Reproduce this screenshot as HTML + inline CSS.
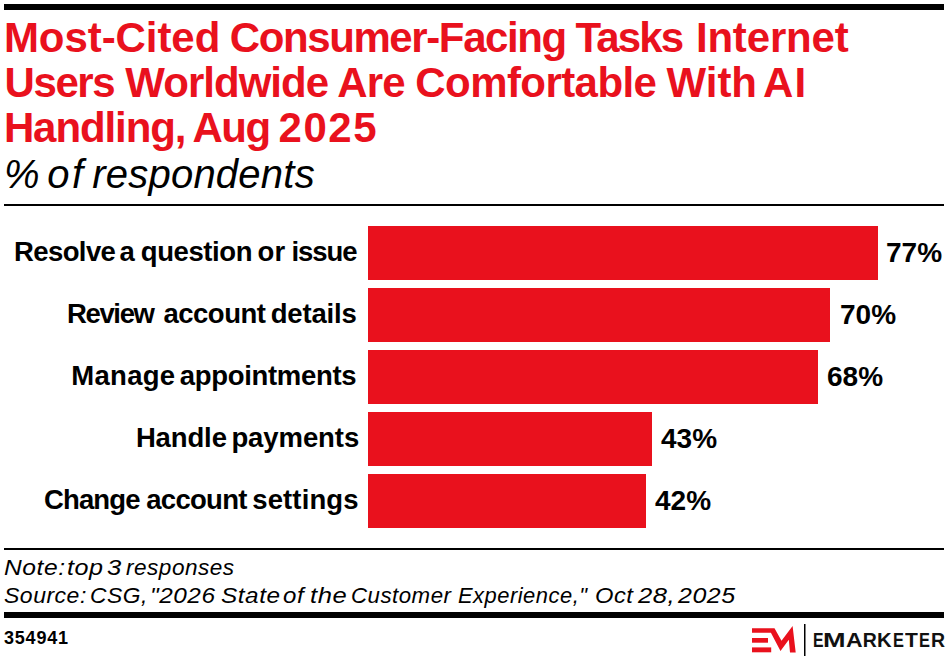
<!DOCTYPE html>
<html>
<head>
<meta charset="utf-8">
<style>
html,body{margin:0;padding:0;background:#fff;}
body{width:948px;height:660px;position:relative;overflow:hidden;font-family:"Liberation Sans",sans-serif;}
.abs{position:absolute;white-space:nowrap;}
.rule{position:absolute;background:#000;}
.title{color:#e9111d;font-weight:bold;font-size:42px;line-height:45px;left:3.5px;letter-spacing:-0.83px;}
.sub{font-style:italic;font-size:40px;left:5px;color:#000;}
.lab{font-weight:bold;font-size:27.5px;color:#000;text-align:right;}
.bar{position:absolute;background:#e9111d;left:368px;height:54px;}
.val{font-weight:bold;font-size:28px;color:#000;}
.note{font-style:italic;font-size:22.5px;letter-spacing:0.5px;left:5px;color:#000;}
</style>
</head>
<body>
<div class="rule" style="left:4px;top:4px;width:940px;height:6px;"></div>

<div class="abs title" style="top:15px;left:3.9px;letter-spacing:-0.06px;">Most-Cited</div>
<div class="abs title" style="top:15px;left:229.7px;letter-spacing:-1.39px;">Consumer-Facing</div>
<div class="abs title" style="top:15px;left:575.5px;letter-spacing:-1.83px;">Tasks</div>
<div class="abs title" style="top:15px;left:695.9px;letter-spacing:-0.17px;">Internet</div>
<div class="abs title" style="top:60px;left:4.5px;letter-spacing:-1.4px;">Users</div>
<div class="abs title" style="top:60px;left:125.3px;letter-spacing:-0.97px;">Worldwide</div>
<div class="abs title" style="top:60px;left:337.3px;letter-spacing:-0.88px;">Are</div>
<div class="abs title" style="top:60px;left:415.3px;letter-spacing:-0.57px;">Comfortable</div>
<div class="abs title" style="top:60px;left:666.6px;letter-spacing:-0.06px;">With</div>
<div class="abs title" style="top:60px;left:763.1px;letter-spacing:1.07px;">AI</div>
<div class="abs title" style="top:105px;left:3.9px;letter-spacing:-1.1px;">Handling,</div>
<div class="abs title" style="top:105px;left:192.5px;letter-spacing:-1.53px;">Aug</div>
<div class="abs title" style="top:105px;left:278.5px;letter-spacing:1.54px;">2025</div>
<div class="abs sub" style="top:152px;left:4px;">%</div>
<div class="abs sub" style="top:152px;left:47.3px;letter-spacing:2.5px;">of</div>
<div class="abs sub" style="top:152px;left:92.2px;letter-spacing:0.23px;">respondents</div>

<div class="rule" style="left:4px;top:204px;width:940px;height:2px;"></div>

<div class="bar" style="top:226px;width:510px;"></div>
<div class="bar" style="top:288px;width:462px;"></div>
<div class="bar" style="top:350px;width:450px;"></div>
<div class="bar" style="top:412px;width:284px;"></div>
<div class="bar" style="top:474px;width:278px;"></div>

<div class="abs lab" style="top:236px;left:14.1px;letter-spacing:-0.62px;">Resolve</div>
<div class="abs lab" style="top:236px;left:119.5px;letter-spacing:-0.75px;">a</div>
<div class="abs lab" style="top:236px;left:140.8px;letter-spacing:-0.41px;">question</div>
<div class="abs lab" style="top:236px;left:257.4px;letter-spacing:0.25px;">or</div>
<div class="abs lab" style="top:236px;left:291.5px;letter-spacing:-1.08px;">issue</div>
<div class="abs lab" style="top:298px;left:66.9px;letter-spacing:-1.33px;">Review</div>
<div class="abs lab" style="top:298px;left:163.4px;letter-spacing:-0.48px;">account</div>
<div class="abs lab" style="top:298px;left:270.7px;letter-spacing:-0.16px;">details</div>
<div class="abs lab" style="top:360px;left:71.3px;letter-spacing:0.28px;">Manage</div>
<div class="abs lab" style="top:360px;left:179.8px;letter-spacing:-0.32px;">appointments</div>
<div class="abs lab" style="top:422px;left:135.9px;letter-spacing:-0.13px;">Handle</div>
<div class="abs lab" style="top:422px;left:231.4px;letter-spacing:-0.08px;">payments</div>
<div class="abs lab" style="top:484px;left:44.1px;letter-spacing:-0.9px;">Change</div>
<div class="abs lab" style="top:484px;left:146.3px;letter-spacing:-0.72px;">account</div>
<div class="abs lab" style="top:484px;left:252.3px;letter-spacing:0.11px;">settings</div>

<div class="abs val" id="v1" style="left:886px;top:237px;">77%</div>
<div class="abs val" id="v2" style="left:840px;top:299px;">70%</div>
<div class="abs val" id="v3" style="left:827px;top:361px;">68%</div>
<div class="abs val" id="v4" style="left:661px;top:423px;">43%</div>
<div class="abs val" id="v5" style="left:655px;top:485px;">42%</div>

<div class="rule" style="left:4px;top:548px;width:940px;height:2px;"></div>

<div class="abs note" style="top:555px;left:4.3px;transform:scaleX(1.094);transform-origin:0 0;">Note:</div>
<div class="abs note" style="top:555px;left:67px;transform:scaleX(1.117);transform-origin:0 0;">top</div>
<div class="abs note" style="top:555px;left:106.6px;transform:scaleX(1.14);transform-origin:0 0;">3</div>
<div class="abs note" style="top:555px;left:126.1px;transform:scaleX(1.003);transform-origin:0 0;">responses</div>
<div class="abs note" style="top:583px;left:3.7px;transform:scaleX(1.022);transform-origin:0 0;">Source:</div>
<div class="abs note" style="top:583px;left:90px;transform:scaleX(1.013);transform-origin:0 0;">CSG,</div>
<div class="abs note" style="top:583px;left:149.7px;transform:scaleX(1.082);transform-origin:0 0;">&quot;2026</div>
<div class="abs note" style="top:583px;left:220.5px;transform:scaleX(1.081);transform-origin:0 0;">State</div>
<div class="abs note" style="top:583px;left:283.3px;transform:scaleX(1.068);transform-origin:0 0;">of</div>
<div class="abs note" style="top:583px;left:310.2px;transform:scaleX(1.138);transform-origin:0 0;">the</div>
<div class="abs note" style="top:583px;left:351.1px;transform:scaleX(0.989);transform-origin:0 0;">Customer</div>
<div class="abs note" style="top:583px;left:457.9px;transform:scaleX(0.975);transform-origin:0 0;">Experience,&quot;</div>
<div class="abs note" style="top:583px;left:594.8px;transform:scaleX(1.054);transform-origin:0 0;">Oct</div>
<div class="abs note" style="top:583px;left:638px;transform:scaleX(1.138);transform-origin:0 0;">28,</div>
<div class="abs note" style="top:583px;left:677.6px;transform:scaleX(1.108);transform-origin:0 0;">2025</div>

<div class="rule" style="left:4px;top:612px;width:940px;height:6px;"></div>

<div class="abs" id="code" style="left:4px;top:628px;font-weight:bold;font-size:18px;letter-spacing:0.8px;">354941</div>

<svg style="position:absolute;left:0;top:0;" width="948" height="660">
<polygon fill="#e9111d" points="752,628.2 774.5,628.2 781.5,640.8 792.6,626.1 795.7,652.4 790,652.4 788.8,639.8 780.5,651.1 770.9,632.8 752,632.8"/>
<rect fill="#e9111d" x="752" y="638" width="16" height="4.7"/>
<rect fill="#e9111d" x="752" y="647.4" width="19.2" height="4.9"/>
<rect fill="#000" x="804" y="624" width="1.5" height="32"/>
</svg>
<div id="logo" style="position:absolute;left:0;top:0;font-weight:bold;font-size:19.5px;color:#111;">
<span style="position:absolute;top:629px;left:812.5px;transform:scaleX(0.81);transform-origin:0 0;">E</span><span style="position:absolute;top:629px;left:823.1px;transform:scaleX(1.39);transform-origin:0 0;">M</span><span style="position:absolute;top:629px;left:845.7px;transform:scaleX(1.18);transform-origin:0 0;">A</span><span style="position:absolute;top:629px;left:862.7px;transform:scaleX(1.0);transform-origin:0 0;">R</span><span style="position:absolute;top:629px;left:877.0px;transform:scaleX(1.04);transform-origin:0 0;">K</span><span style="position:absolute;top:629px;left:892.6px;transform:scaleX(0.84);transform-origin:0 0;">E</span><span style="position:absolute;top:629px;left:904.5px;transform:scaleX(1.08);transform-origin:0 0;">T</span><span style="position:absolute;top:629px;left:918.5px;transform:scaleX(0.84);transform-origin:0 0;">E</span><span style="position:absolute;top:629px;left:931px;transform:scaleX(1.0);transform-origin:0 0;">R</span>
</div>
</body>
</html>
